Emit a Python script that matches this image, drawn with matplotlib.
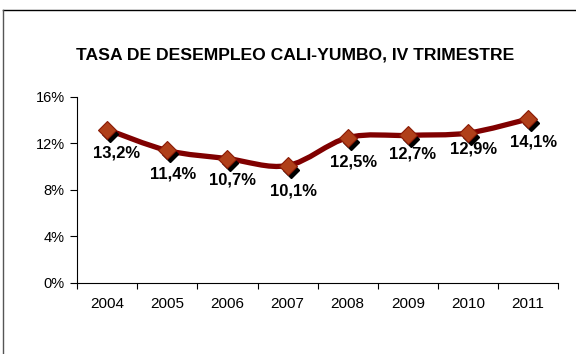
import numpy as np
import matplotlib.pyplot as plt
from matplotlib.path import Path
from matplotlib.patches import PathPatch
from matplotlib.lines import Line2D
from matplotlib.ticker import FuncFormatter
from matplotlib.transforms import ScaledTranslation

# Tasa de desempleo Cali-Yumbo, cuarto trimestre
anios = ['2004', '2005', '2006', '2007', '2008', '2009', '2010', '2011']
tasa = [13.2, 11.4, 10.7, 10.1, 12.5, 12.7, 12.9, 14.1]
etiquetas = ['13,2%', '11,4%', '10,7%', '10,1%', '12,5%', '12,7%', '12,9%', '14,1%']

# desplazamiento de cada etiqueta respecto al punto (pixeles)
desplaz = [(9, -23), (6, -24), (5, -21), (6, -25), (6, -24), (5, -19), (6, -16), (5, -23)]

plt.rcParams['font.family'] = ['Liberation Sans', 'DejaVu Sans']

fig = plt.figure(figsize=(5.76, 3.54), dpi=100)
ax = fig.add_axes([0.134, 0.2006, 0.835, 0.5254])

x = np.arange(len(anios))
y = np.array(tasa)

# curva suavizada (Bezier tipo Catmull-Rom entre los puntos)
verts = [(x[0], y[0])]
codes = [Path.MOVETO]
t = 1 / 6
for i in range(len(x) - 1):
    p0 = np.array([x[max(i - 1, 0)], y[max(i - 1, 0)]])
    p1 = np.array([x[i], y[i]])
    p2 = np.array([x[i + 1], y[i + 1]])
    p3 = np.array([x[min(i + 2, len(x) - 1)], y[min(i + 2, len(x) - 1)]])
    c1 = p1 + (p2 - p0) * t
    c2 = p2 - (p3 - p1) * t
    verts += [tuple(c1), tuple(c2), tuple(p2)]
    codes += [Path.CURVE4] * 3
ax.add_patch(PathPatch(Path(verts, codes), fill=False, edgecolor='#800000',
                       lw=3.8, capstyle='round', joinstyle='round', zorder=2))

# sombra de los marcadores
sombra = ax.transData + ScaledTranslation(3/100, -4/100, fig.dpi_scale_trans)
ax.plot(x, y, linestyle='none', marker='D', ms=8.5, color='black', zorder=3,
        transform=sombra)
ax.plot(x, y, linestyle='none', marker='D', ms=9.5, mfc='#b0401a', mec='#8a1a05',
        mew=0.8, zorder=4)

for xi, yi, lab, (dx, dy) in zip(x, y, etiquetas, desplaz):
    ax.annotate(lab, (xi, yi), xytext=(dx, dy), textcoords='offset pixels',
                ha='center', va='center', fontsize=12, fontweight='bold', zorder=5)

ax.set_xlim(-0.5, len(anios) - 0.5)
ax.set_ylim(0, 16)
ax.set_yticks([0, 4, 8, 12, 16])
ax.yaxis.set_major_formatter(FuncFormatter(lambda v, p: f'{v:.0f}%'))
ax.set_xticks(x)
ax.set_xticklabels(anios)
ax.set_xticks(np.arange(-0.5, len(anios)), minor=True)
ax.tick_params(axis='x', which='major', length=0, pad=10, labelsize=11)
ax.tick_params(axis='x', which='minor', length=4, width=0.8)
ax.tick_params(axis='y', length=5, width=0.8, labelsize=10.5, pad=4)
for s in ['top', 'right']:
    ax.spines[s].set_visible(False)
ax.spines['left'].set_linewidth(0.8)
ax.spines['bottom'].set_linewidth(0.8)

fig.text(0.512, 0.845, 'TASA DE DESEMPLEO CALI-YUMBO, IV TRIMESTRE',
         ha='center', va='center', fontsize=12.6, fontweight='bold')

# marco del grafico
fig.add_artist(Line2D([0.005, 1.0], [0.972, 0.972], color='black', lw=1))
fig.add_artist(Line2D([0.005, 0.005], [0.0, 0.972], color='#555555', lw=1))

fig.savefig('out.png', dpi=100)
